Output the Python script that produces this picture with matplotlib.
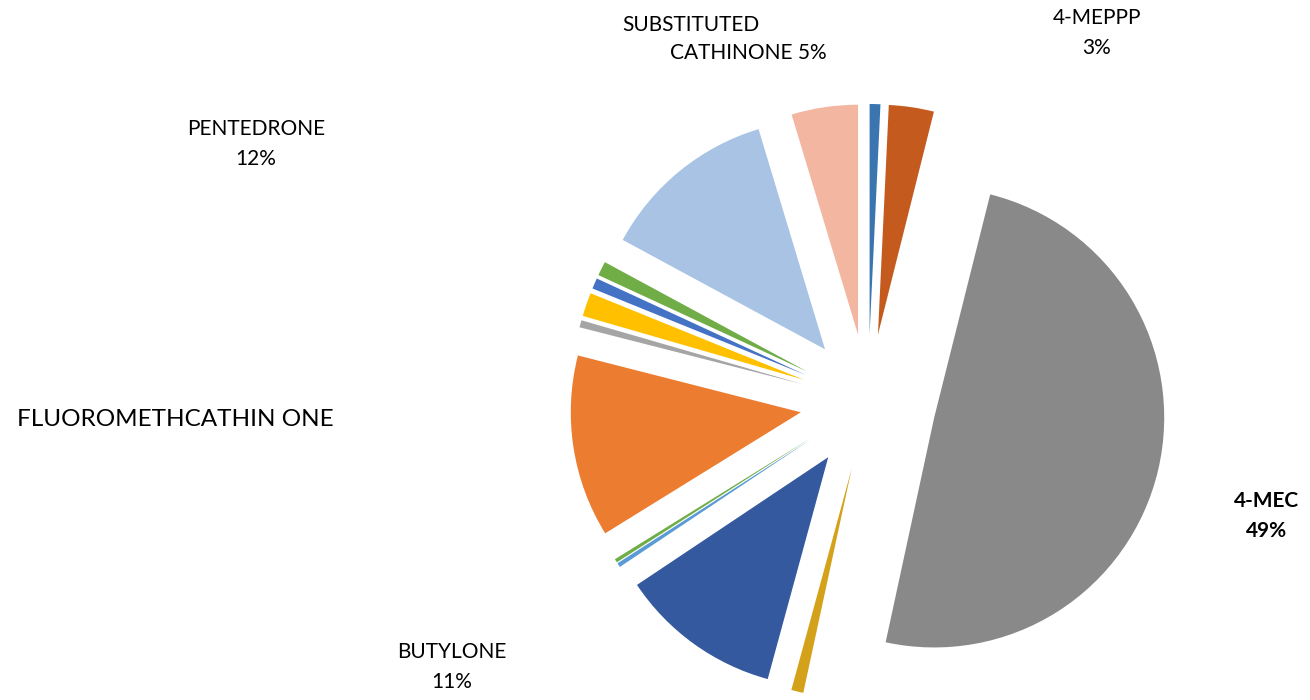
import matplotlib
matplotlib.use("Agg")
import matplotlib.pyplot as plt

# slice shares in percent, clockwise from 12 o'clock
names = ["", "4-MEPPP", "4-MEC", "", "BUTYLONE", "", "",
         "FLUOROMETHCATHIN ONE", "", "", "", "", "PENTEDRONE",
         "SUBSTITUTED CATHINONE"]
shares = [0.75, 3.15, 49.3, 0.85, 11.35, 0.3, 0.25,
          12.75, 0.5, 1.65, 0.75, 1.0, 12.4, 4.65]
colors = ["#3A75B0", "#C55A1E", "#898989", "#D4A21A", "#34599E", "#5B9BD5", "#70AD47",
          "#EC7C30", "#A5A5A5", "#FFC000", "#4472C4", "#70AD47", "#A9C3E5", "#F3B6A0"]

plt.rcParams["font.family"] = ["Lato", "DejaVu Sans"]

fig = plt.figure(figsize=(13.1, 7), dpi=100)
ax = fig.add_axes([0, 0, 1, 1])

# axes work in pixel units so the pie radius / explode read directly
R = 230
ax.pie(shares, colors=colors, startangle=90, counterclock=False,
       radius=R, center=(868, 298), explode=[68] * len(shares),
       wedgeprops=dict(linewidth=0), frame=True)
ax.set_xlim(0, 1310)
ax.set_ylim(0, 700)
ax.axis("off")

fs = 15
ax.text(1097, 682, "4-MEPPP", ha="center", va="center", fontsize=fs)
ax.text(1097, 652, "3%", ha="center", va="center", fontsize=fs)
ax.text(622, 675, "SUBSTITUTED", ha="left", va="center", fontsize=fs)
ax.text(670, 647, "CATHINONE 5%", ha="left", va="center", fontsize=fs)
ax.text(256, 571, "PENTEDRONE", ha="center", va="center", fontsize=fs)
ax.text(256, 541, "12%", ha="center", va="center", fontsize=fs)
ax.text(17, 280, "FLUOROMETHCATHIN ONE", ha="left", va="center", fontsize=17.5)
ax.text(452, 48, "BUTYLONE", ha="center", va="center", fontsize=fs)
ax.text(452, 18, "11%", ha="center", va="center", fontsize=fs)
ax.text(1267, 199, "4-MEC", ha="center", va="center", fontsize=fs, fontweight="bold")
ax.text(1267, 169, "49%", ha="center", va="center", fontsize=fs, fontweight="bold")

fig.savefig("out.png", dpi=100)
